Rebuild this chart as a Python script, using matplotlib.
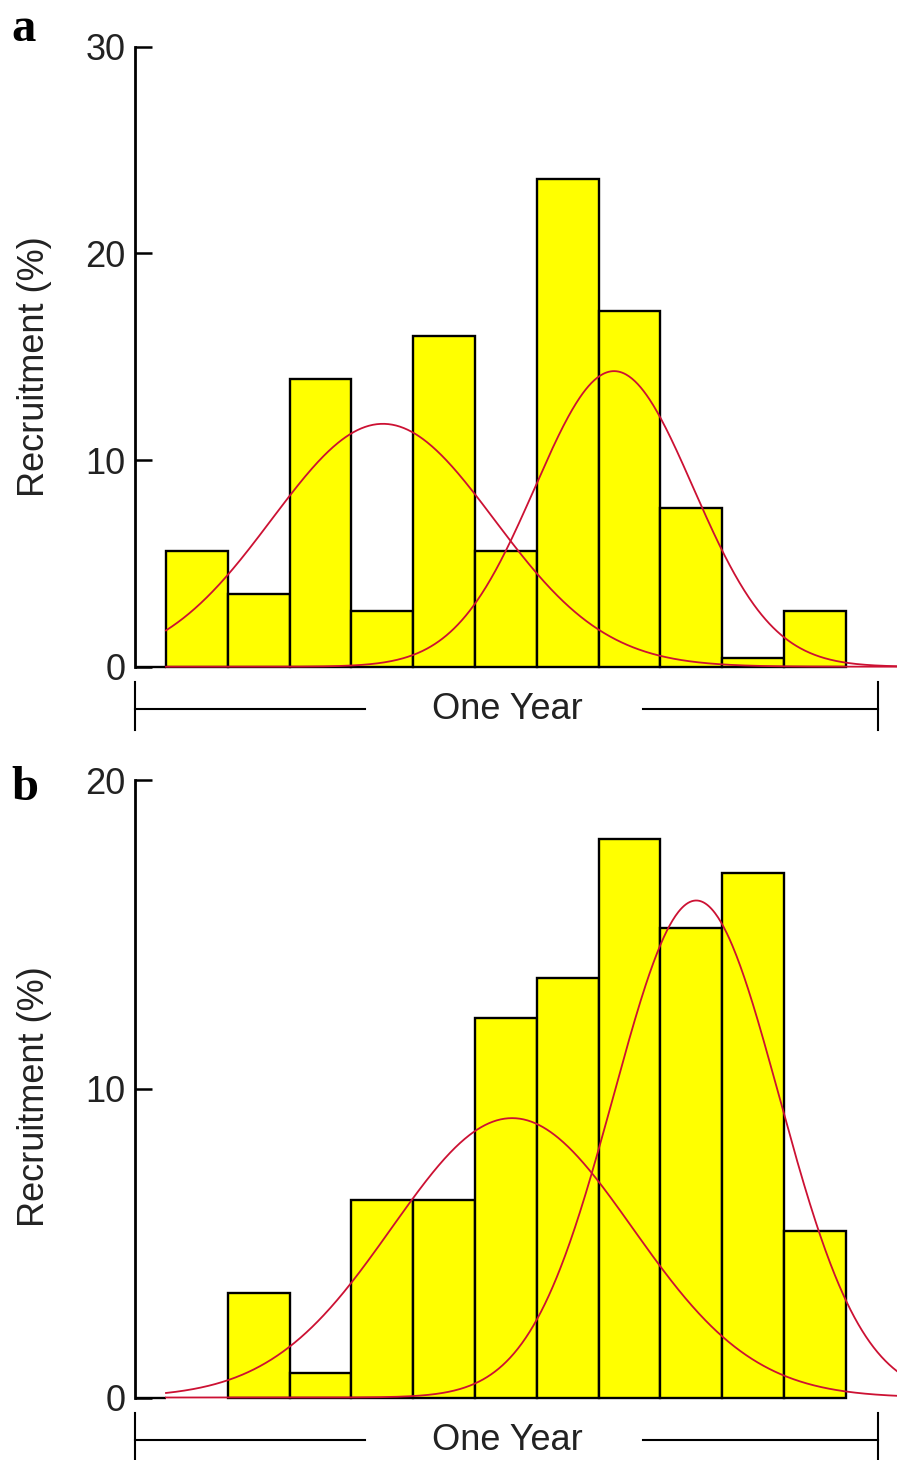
import numpy as np
import matplotlib
matplotlib.use("Agg")
import matplotlib.pyplot as plt

# ---------------- data ----------------
bins = list(range(11))                       # monthly size/time classes (bin index)
recruit_a = [5.6, 3.5, 13.9, 2.7, 16.0, 5.6, 23.6, 17.2, 7.7, 0.4, 2.7]
recruit_b = [0.0, 3.4, 0.8, 6.4, 6.4, 12.3, 13.6, 18.1, 15.2, 17.0, 5.4]

# fitted normal components: (mean [bin units], sd, peak height %)
comp_a_mean = [3.51, 7.25]
comp_a_sd = [1.80, 1.28]
comp_a_peak = [11.75, 14.3]
comp_b_mean = [5.60, 8.58]
comp_b_sd = [1.95, 1.34]
comp_b_peak = [9.05, 16.1]

ticks_a = [0, 10, 20, 30]
ticks_b = [0, 10, 20]

# ---------------- layout ----------------
W, H = 897, 1460
fig = plt.figure(figsize=(W / 100, H / 100), dpi=100)
plt.rcParams["font.family"] = ["Liberation Sans", "DejaVu Sans"]

X0, PXB = 166.0, 61.8          # pixel of bin 0 left edge, pixels per bin
def u(px):
    return (px - X0) / PXB

TXT = "#222222"
RED = "#cc1133"


def panel(top_px, bot_px, base_px, unit_px, ymax, ticks, heights,
          means, sds, peaks, br_y, br_t0, br_t1, letter, letter_base, ylab_c):
    ax = fig.add_axes([135 / W, 1 - bot_px / H, (W - 135) / W, (bot_px - top_px) / H])
    ax.set_xlim(u(135), u(897))
    ax.set_ylim(-(bot_px - base_px) / unit_px, (base_px - top_px) / unit_px)
    d = lambda py: (base_px - py) / unit_px

    for s in ("top", "right", "bottom"):
        ax.spines[s].set_visible(False)
    ax.spines["left"].set_bounds(0, ymax)
    ax.spines["left"].set_linewidth(2.0)
    ax.set_xticks([])
    ax.set_yticks(ticks)
    ax.tick_params(axis="y", direction="in", length=12, width=1.8, pad=7,
                   labelsize=26, labelcolor=TXT)
    ax.patch.set_alpha(0)

    # histogram bars (skip empty classes)
    xs = [b + 0.5 for b, h in zip(bins, heights) if h > 0]
    hs = [h for h in heights if h > 0]
    ax.bar(xs, hs, width=1.0, color="#FFFF00", edgecolor="black", linewidth=1.7, zorder=2)
    # short x-axis stub
    ax.plot([u(135), 0], [0, 0], color="black", lw=1.7, zorder=2, solid_capstyle="butt")

    # fitted normal components
    uu = np.linspace(0, 12.5, 800)
    for m, s, p in zip(means, sds, peaks):
        ax.plot(uu, p * np.exp(-(uu - m) ** 2 / (2 * s ** 2)), color=RED, lw=1.3, zorder=3)

    # "One Year" bracket
    yb = d(br_y)
    ax.plot([u(135), u(365)], [yb, yb], color="black", lw=1.5, clip_on=False)
    ax.plot([u(643), u(878)], [yb, yb], color="black", lw=1.5, clip_on=False)
    for xx in (u(135), u(878)):
        ax.plot([xx, xx], [d(br_t0), d(br_t1)], color="black", lw=1.5, clip_on=False)
    ax.text(u(507), yb, "One Year", ha="center", va="center", fontsize=26, color=TXT)

    fig.text(11 / W, 1 - letter_base / H, letter, ha="left", va="baseline",
             fontsize=35, fontweight="bold", family=["Liberation Serif", "DejaVu Serif"])
    fig.text(34 / W, 1 - ylab_c / H, "Recruitment (%)", rotation=90, ha="center",
             va="center", fontsize=26, color=TXT)
    return ax


panel(20, 745, 666.7, 20.67, 30, ticks_a, recruit_a,
      comp_a_mean, comp_a_sd, comp_a_peak, 709, 682, 730, "a", 41, 367)
panel(760, 1460, 1397.5, 30.87, 20, ticks_b, recruit_b,
      comp_b_mean, comp_b_sd, comp_b_peak, 1440, 1413, 1470, "b", 800, 1097)

fig.savefig("out.png", dpi=100)
